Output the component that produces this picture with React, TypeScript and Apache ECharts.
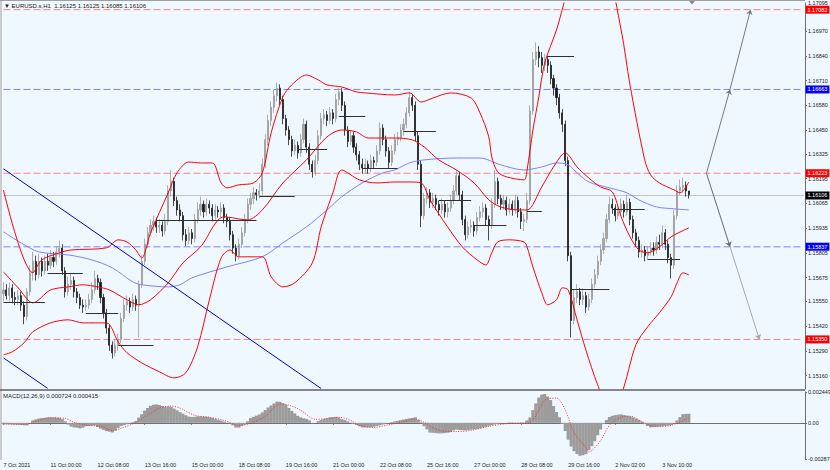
import React, { useEffect, useRef } from 'react';
import * as echarts from 'echarts';

// ---- data (2-hour bars, [open, close, low, high]) ----
const candles: number[][] = [
[1.1559,1.1561,1.1555,1.1565],[1.1561,1.1558,1.1556,1.1564],[1.1558,1.1562,1.1555,1.1565],[1.1562,1.1557,1.1554,1.1564],[1.1557,1.1556,1.1553,1.1560],
[1.1556,1.1558,1.1553,1.1561],[1.1558,1.1553,1.1550,1.1560],[1.1553,1.1547,1.1543,1.1555],[1.1547,1.1560,1.1545,1.1562],[1.1560,1.1570,1.1558,1.1574],
[1.1570,1.1576,1.1566,1.1581],[1.1576,1.1569,1.1566,1.1579],[1.1569,1.1576,1.1567,1.1580],[1.1576,1.1571,1.1568,1.1578],[1.1571,1.1576,1.1569,1.1579],
[1.1576,1.1574,1.1571,1.1580],[1.1574,1.1578,1.1572,1.1582],[1.1578,1.1576,1.1573,1.1581],[1.1576,1.1581,1.1574,1.1584],[1.1581,1.1583,1.1578,1.1587],
[1.1583,1.1571,1.1569,1.1585],[1.1571,1.1560,1.1557,1.1573],[1.1560,1.1564,1.1558,1.1568],[1.1564,1.1566,1.1561,1.1570],[1.1566,1.1560,1.1557,1.1568],
[1.1560,1.1557,1.1554,1.1562],[1.1557,1.1553,1.1551,1.1559],[1.1553,1.1552,1.1549,1.1556],[1.1552,1.1553,1.1550,1.1556],[1.1553,1.1556,1.1551,1.1559],
[1.1556,1.1561,1.1554,1.1565],[1.1561,1.1567,1.1559,1.1571],[1.1567,1.1565,1.1561,1.1569],[1.1565,1.1557,1.1554,1.1567],[1.1557,1.1549,1.1546,1.1559],
[1.1549,1.1541,1.1538,1.1551],[1.1541,1.1532,1.1529,1.1543],[1.1532,1.1528,1.1525,1.1534],[1.1528,1.1532,1.1526,1.1535],[1.1532,1.1535,1.1529,1.1538],
[1.1535,1.1546,1.1533,1.1549],[1.1546,1.1553,1.1544,1.1556],[1.1553,1.1555,1.1550,1.1558],[1.1555,1.1552,1.1549,1.1557],[1.1552,1.1556,1.1550,1.1559],
[1.1556,1.1553,1.1550,1.1558],[1.1553,1.1564,1.1536,1.1566],[1.1564,1.1576,1.1562,1.1579],[1.1576,1.1585,1.1574,1.1588],[1.1585,1.1591,1.1583,1.1594],
[1.1591,1.1595,1.1589,1.1598],[1.1595,1.1597,1.1592,1.1600],[1.1597,1.1594,1.1591,1.1599],[1.1594,1.1595,1.1591,1.1598],[1.1595,1.1592,1.1589,1.1597],
[1.1592,1.1597,1.1590,1.1601],[1.1597,1.1613,1.1595,1.1616],[1.1613,1.1618,1.1610,1.1624],[1.1618,1.1608,1.1605,1.1620],[1.1608,1.1603,1.1600,1.1610],
[1.1603,1.1600,1.1597,1.1606],[1.1600,1.1590,1.1587,1.1602],[1.1590,1.1587,1.1584,1.1593],[1.1587,1.1591,1.1585,1.1594],[1.1591,1.1588,1.1585,1.1593],
[1.1588,1.1598,1.1586,1.1601],[1.1598,1.1603,1.1596,1.1607],[1.1603,1.1606,1.1600,1.1610],[1.1606,1.1602,1.1599,1.1608],[1.1602,1.1606,1.1600,1.1609],
[1.1606,1.1604,1.1601,1.1608],[1.1604,1.1600,1.1597,1.1606],[1.1600,1.1603,1.1598,1.1606],[1.1603,1.1602,1.1599,1.1605],[1.1602,1.1604,1.1599,1.1607],
[1.1604,1.1599,1.1596,1.1606],[1.1599,1.1597,1.1594,1.1601],[1.1597,1.1590,1.1587,1.1599],[1.1590,1.1583,1.1580,1.1592],[1.1583,1.1579,1.1576,1.1585],
[1.1579,1.1585,1.1577,1.1588],[1.1585,1.1591,1.1583,1.1594],[1.1591,1.1598,1.1589,1.1601],[1.1598,1.1606,1.1596,1.1609],[1.1606,1.1609,1.1603,1.1612],
[1.1609,1.1612,1.1606,1.1615],[1.1612,1.1611,1.1608,1.1614],[1.1611,1.1613,1.1609,1.1617],[1.1613,1.1627,1.1611,1.1630],[1.1627,1.1640,1.1625,1.1643],
[1.1640,1.1650,1.1637,1.1653],[1.1650,1.1657,1.1647,1.1660],[1.1657,1.1663,1.1654,1.1666],[1.1663,1.1667,1.1660,1.1670],[1.1667,1.1661,1.1658,1.1669],
[1.1661,1.1651,1.1648,1.1663],[1.1651,1.1645,1.1642,1.1653],[1.1645,1.1640,1.1637,1.1647],[1.1640,1.1634,1.1631,1.1642],[1.1634,1.1637,1.1632,1.1640],
[1.1637,1.1633,1.1630,1.1639],[1.1633,1.1640,1.1631,1.1643],[1.1640,1.1648,1.1638,1.1651],[1.1648,1.1636,1.1633,1.1650],[1.1636,1.1627,1.1624,1.1638],
[1.1627,1.1623,1.1620,1.1629],[1.1623,1.1629,1.1621,1.1632],[1.1629,1.1642,1.1627,1.1645],[1.1642,1.1651,1.1640,1.1654],[1.1651,1.1653,1.1648,1.1656],
[1.1653,1.1650,1.1647,1.1655],[1.1650,1.1654,1.1648,1.1657],[1.1654,1.1651,1.1648,1.1656],[1.1651,1.1661,1.1649,1.1664],[1.1661,1.1665,1.1658,1.1667],
[1.1665,1.1658,1.1655,1.1667],[1.1658,1.1645,1.1642,1.1660],[1.1645,1.1639,1.1636,1.1647],[1.1639,1.1642,1.1637,1.1645],[1.1642,1.1636,1.1633,1.1644],
[1.1636,1.1632,1.1629,1.1638],[1.1632,1.1627,1.1624,1.1634],[1.1627,1.1625,1.1622,1.1630],[1.1625,1.1627,1.1622,1.1630],[1.1627,1.1625,1.1622,1.1629],
[1.1625,1.1629,1.1623,1.1632],[1.1629,1.1628,1.1625,1.1631],[1.1628,1.1634,1.1626,1.1637],[1.1634,1.1646,1.1632,1.1649],[1.1646,1.1640,1.1637,1.1648],
[1.1640,1.1634,1.1631,1.1642],[1.1634,1.1628,1.1625,1.1636],[1.1628,1.1634,1.1626,1.1637],[1.1634,1.1640,1.1632,1.1643],[1.1640,1.1641,1.1637,1.1644],
[1.1641,1.1645,1.1639,1.1648],[1.1645,1.1648,1.1642,1.1651],[1.1648,1.1654,1.1646,1.1657],[1.1654,1.1662,1.1652,1.1665],[1.1662,1.1658,1.1655,1.1664],
[1.1658,1.1642,1.1639,1.1660],[1.1642,1.1627,1.1624,1.1644],[1.1627,1.1600,1.1594,1.1629],[1.1600,1.1609,1.1598,1.1612],[1.1609,1.1612,1.1606,1.1615],
[1.1612,1.1607,1.1604,1.1614],[1.1607,1.1609,1.1604,1.1612],[1.1609,1.1606,1.1603,1.1611],[1.1606,1.1603,1.1600,1.1608],[1.1603,1.1606,1.1601,1.1609],
[1.1606,1.1602,1.1599,1.1608],[1.1602,1.1604,1.1599,1.1607],[1.1604,1.1608,1.1602,1.1611],[1.1608,1.1613,1.1606,1.1616],[1.1613,1.1621,1.1611,1.1624],
[1.1621,1.1611,1.1608,1.1623],[1.1611,1.1598,1.1595,1.1613],[1.1598,1.1590,1.1587,1.1600],[1.1590,1.1594,1.1588,1.1597],[1.1594,1.1595,1.1591,1.1598],
[1.1595,1.1592,1.1589,1.1597],[1.1592,1.1599,1.1590,1.1602],[1.1599,1.1602,1.1597,1.1605],[1.1602,1.1604,1.1599,1.1607],[1.1604,1.1598,1.1595,1.1606],
[1.1598,1.1595,1.1587,1.1600],[1.1595,1.1606,1.1593,1.1609],[1.1606,1.1618,1.1604,1.1624],[1.1618,1.1609,1.1606,1.1620],[1.1609,1.1606,1.1603,1.1611],
[1.1606,1.1608,1.1603,1.1611],[1.1608,1.1603,1.1600,1.1610],[1.1603,1.1606,1.1601,1.1609],[1.1606,1.1603,1.1600,1.1608],[1.1603,1.1608,1.1601,1.1611],
[1.1608,1.1602,1.1599,1.1610],[1.1602,1.1597,1.1593,1.1604],[1.1597,1.1598,1.1592,1.1601],[1.1598,1.1608,1.1596,1.1612],[1.1608,1.1655,1.1606,1.1658],
[1.1655,1.1682,1.1653,1.1686],[1.1682,1.1686,1.1679,1.1691],[1.1686,1.1683,1.1678,1.1689],[1.1683,1.1679,1.1675,1.1686],[1.1679,1.1682,1.1676,1.1685],
[1.1682,1.1679,1.1675,1.1684],[1.1679,1.1672,1.1669,1.1681],[1.1672,1.1667,1.1663,1.1674],[1.1667,1.1662,1.1658,1.1669],[1.1662,1.1654,1.1651,1.1664],
[1.1654,1.1648,1.1644,1.1656],[1.1648,1.1629,1.1626,1.1650],[1.1629,1.1579,1.1576,1.1631],[1.1579,1.1545,1.1536,1.1581],[1.1545,1.1557,1.1543,1.1561],
[1.1557,1.1560,1.1554,1.1564],[1.1560,1.1556,1.1553,1.1562],[1.1556,1.1558,1.1553,1.1562],[1.1558,1.1552,1.1549,1.1560],[1.1552,1.1556,1.1550,1.1559],
[1.1556,1.1564,1.1554,1.1567],[1.1564,1.1569,1.1562,1.1572],[1.1569,1.1576,1.1567,1.1579],[1.1576,1.1582,1.1574,1.1585],[1.1582,1.1588,1.1580,1.1591],
[1.1588,1.1598,1.1586,1.1601],[1.1598,1.1606,1.1596,1.1610],[1.1606,1.1604,1.1601,1.1609],[1.1604,1.1600,1.1597,1.1606],[1.1600,1.1602,1.1598,1.1605],
[1.1602,1.1606,1.1600,1.1609],[1.1606,1.1602,1.1599,1.1608],[1.1602,1.1607,1.1600,1.1611],[1.1607,1.1598,1.1595,1.1609],[1.1598,1.1591,1.1588,1.1600],
[1.1591,1.1587,1.1584,1.1593],[1.1587,1.1581,1.1578,1.1589],[1.1581,1.1582,1.1578,1.1585],[1.1582,1.1579,1.1576,1.1584],[1.1579,1.1581,1.1577,1.1584],
[1.1581,1.1583,1.1579,1.1586],[1.1583,1.1582,1.1579,1.1586],[1.1582,1.1586,1.1580,1.1589],[1.1586,1.1585,1.1582,1.1590],[1.1585,1.1591,1.1583,1.1595],
[1.1591,1.1585,1.1582,1.1593],[1.1585,1.1578,1.1575,1.1587],[1.1578,1.1574,1.1567,1.1580],[1.1574,1.1600,1.1572,1.1603],[1.1600,1.1613,1.1598,1.1616],
[1.1613,1.1615,1.1611,1.1619],[1.1615,1.1616,1.1612,1.1620],[1.1616,1.1613,1.1610,1.1618],[1.1613,1.1611,1.1609,1.1613]
];

// Bollinger bands and moving average: [bar index, price]
const bbUpper: number[][] = [
[0,1.16135],[10,1.15700],[13,1.15768],[19,1.15805],[23,1.15820],[35,1.15831],[39,1.15873],[42,1.15862],[45,1.15820],[47,1.15778],
[50,1.15910],[56,1.16120],[59,1.16225],[63,1.16282],[67,1.16277],[71,1.16277],[74,1.16172],[76,1.16146],[80,1.16162],[85,1.16172],
[88,1.16225],[91,1.16435],[95,1.16624],[98,1.16687],[103,1.16739],[107,1.16713],[110,1.16687],[115,1.16676],[120,1.16650],[123,1.16645],
[133,1.16634],[138,1.16645],[142,1.16597],[146,1.16618],[152,1.16645],[159,1.16618],[162,1.16540],[165,1.16414],[166,1.16309],[168,1.16230],
[171,1.16204],[177,1.16188],[178,1.16240],[180,1.16450],[182,1.16624],[184,1.16802],[188,1.16975],[193,1.17238],[198,1.17369],[205,1.17290],
[210,1.16975],[213,1.16687],[218,1.16293],[220,1.16214],[223,1.16172],[228,1.16135],[230,1.16120],[233,1.16177]
];
const bbMiddle: number[][] = [
[0,1.15705],[5,1.15621],[10,1.15542],[16,1.15610],[22,1.15626],[27,1.15637],[32,1.15626],[36,1.15610],[42,1.15558],[46,1.15532],
[50,1.15558],[56,1.15647],[61,1.15752],[67,1.15836],[75,1.15994],[83,1.15978],[88,1.16030],[95,1.16172],[103,1.16293],[110,1.16414],
[115,1.16450],[120,1.16440],[124,1.16408],[133,1.16408],[139,1.16398],[143,1.16361],[148,1.16293],[154,1.16240],[160,1.16172],[165,1.16083],
[169,1.16046],[175,1.16030],[178,1.16030],[183,1.16151],[187,1.16256],[191,1.16330],[195,1.16256],[199,1.16198],[203,1.16151],[207,1.16125],
[210,1.15994],[213,1.15889],[216,1.15820],[219,1.15805],[223,1.15836],[227,1.15889],[233,1.15936]
];
const bbLower: number[][] = [
[0,1.15269],[3,1.15285],[7,1.15332],[10,1.15390],[16,1.15437],[22,1.15453],[27,1.15437],[35,1.15437],[39,1.15337],[42,1.15280],
[47,1.15227],[53,1.15180],[58,1.15148],[62,1.15175],[66,1.15311],[70,1.15558],[74,1.15778],[77,1.15820],[80,1.15784],[88,1.15784],
[91,1.15679],[95,1.15626],[99,1.15647],[105,1.15752],[108,1.15941],[112,1.16120],[115,1.16240],[121,1.16188],[127,1.16172],[133,1.16177],
[138,1.16177],[142,1.16172],[145,1.16083],[151,1.15941],[156,1.15836],[161,1.15768],[164,1.15741],[166,1.15805],[168,1.15862],[172,1.15873],
[177,1.15862],[178,1.15836],[180,1.15731],[183,1.15595],[185,1.15532],[188,1.15558],[190,1.15621],[192,1.15610],[195,1.15453],[198,1.15295],
[202,1.15112],[206,1.14980],[210,1.15059],[215,1.15322],[219,1.15416],[223,1.15490],[227,1.15574],[229,1.15647],[231,1.15700],[233,1.15689]
];
const movingAverage: number[][] = [
[0,1.15915],[6,1.15857],[12,1.15810],[22,1.15794],[30,1.15768],[37,1.15726],[44,1.15652],[47,1.15637],[56,1.15626],[60,1.15637],
[64,1.15673],[76,1.15731],[88,1.15784],[95,1.15857],[103,1.15941],[110,1.16030],[115,1.16099],[122,1.16172],[129,1.16225],[133,1.16240],
[138,1.16277],[143,1.16293],[154,1.16303],[162,1.16303],[169,1.16267],[177,1.16240],[183,1.16256],[188,1.16277],[192,1.16267],[195,1.16225],
[199,1.16177],[206,1.16146],[212,1.16120],[216,1.16083],[222,1.16046],[228,1.16036],[233,1.16030]
];

// MACD(12,26,9): histogram per bar, signal as [bar index, value]
const macdHist: number[] = [
-0.00012,-0.00012,-0.00012,-0.00013,-0.00014,-0.00015,-0.00017,-0.00019,-0.00020,0.00000,
0.00020,0.00027,0.00034,0.00038,0.00040,0.00043,0.00044,0.00043,0.00042,0.00040,
0.00030,0.00012,-0.00014,-0.00030,-0.00036,-0.00039,-0.00044,-0.00038,-0.00027,-0.00025,
-0.00023,-0.00020,-0.00033,-0.00046,-0.00056,-0.00065,-0.00070,-0.00076,-0.00062,-0.00040,
-0.00026,-0.00019,-0.00011,-0.00004,0.00006,0.00015,0.00042,0.00069,0.00097,0.00118,
0.00135,0.00144,0.00146,0.00142,0.00134,0.00125,0.00130,0.00127,0.00113,0.00099,
0.00085,0.00073,0.00060,0.00049,0.00046,0.00048,0.00051,0.00052,0.00049,0.00048,
0.00045,0.00039,0.00031,0.00024,0.00018,0.00010,0.00003,-0.00004,-0.00020,-0.00037,
-0.00038,-0.00026,-0.00014,0.00013,0.00038,0.00048,0.00057,0.00067,0.00083,0.00102,
0.00122,0.00138,0.00154,0.00168,0.00167,0.00156,0.00143,0.00118,0.00095,0.00075,
0.00056,0.00044,0.00037,0.00031,0.00020,-0.00003,0.00001,0.00014,0.00023,0.00030,
0.00037,0.00044,0.00046,0.00048,0.00043,0.00030,0.00022,0.00012,0.00002,-0.00007,
-0.00017,-0.00027,-0.00036,-0.00036,-0.00036,-0.00035,-0.00030,-0.00025,-0.00020,-0.00013,
-0.00006,0.00001,0.00006,0.00011,0.00016,0.00021,0.00026,0.00031,0.00035,0.00039,
0.00044,0.00024,0.00004,-0.00027,-0.00052,-0.00077,-0.00079,-0.00081,-0.00084,-0.00083,
-0.00081,-0.00078,-0.00074,-0.00060,-0.00053,-0.00056,-0.00058,-0.00060,-0.00057,-0.00054,
-0.00051,-0.00048,-0.00044,-0.00037,-0.00031,-0.00023,-0.00018,-0.00013,-0.00008,-0.00003,
-0.00002,0.00001,0.00003,0.00002,0.00000,-0.00002,-0.00002,0.00002,0.00020,0.00044,
0.00101,0.00154,0.00201,0.00224,0.00229,0.00209,0.00181,0.00133,0.00086,0.00045,
-0.00008,-0.00065,-0.00134,-0.00188,-0.00225,-0.00247,-0.00262,-0.00257,-0.00248,-0.00217,
-0.00185,-0.00146,-0.00099,-0.00053,-0.00010,0.00023,0.00047,0.00056,0.00061,0.00065,
0.00067,0.00062,0.00057,0.00052,0.00043,0.00034,0.00024,0.00009,-0.00010,-0.00025,
-0.00036,-0.00034,-0.00031,-0.00029,-0.00027,-0.00024,-0.00022,-0.00017,-0.00003,0.00020,
0.00046,0.00069,0.00071,0.000724
];
const macdSignal: number[][] = [
[0,-0.00008],[7,-0.00012],[11,0.00012],[16,0.00040],[21,0.00036],[24,0.00004],[29,-0.00020],[33,-0.00028],[37,-0.00060],[40,-0.00044],
[45,0.00004],[50,0.00077],[53,0.00117],[57,0.00133],[60,0.00117],[65,0.00060],[70,0.00044],[75,0.00020],[80,-0.00020],[84,-0.00004],
[89,0.00052],[94,0.00149],[97,0.00141],[101,0.00101],[106,0.00028],[111,0.00036],[114,0.00044],[118,0.00020],[121,-0.00020],[126,-0.00036],
[130,-0.00020],[135,0.00004],[140,0.00028],[143,0.00004],[148,-0.00060],[154,-0.00069],[159,-0.00060],[165,-0.00028],[172,-0.00004],[179,0.00004],
[182,0.00101],[184,0.00181],[188,0.00197],[191,0.00101],[194,-0.00077],[198,-0.00197],[199,-0.00230],[203,-0.00141],[206,-0.00020],[210,0.00044],
[213,0.00052],[218,-0.00004],[222,-0.00028],[227,-0.00020],[233,0.000415]
];

// daily horizontal segments: [start bar, end bar, price]
const dailySegments: number[][] = [
[0,14,1.15547],[15,27,1.15700],[28,39,1.15490],[39,51,1.15322],[52,86,1.15978],[87,99,1.16104],[100,110,1.16351],[114,123,1.16524],
[122,134,1.16251],[136,147,1.16445],[148,159,1.16083],[160,171,1.15952],[178,183,1.16025],[185,194,1.16839],[193,206,1.15616],
[207,218,1.16036],[219,230,1.15773]
];
// trend channel lines: [[bar, price], [bar, price]]
const trendLines: number[][][] = [
[[0,1.16246],[108,1.15092]],
[[0,1.15253],[15,1.15093]]
];
// projection arrows
const arrowsUp: number[][][] = [[[239,1.16223],[247,1.16663]],[[247,1.16663],[254,1.17082]]];
const arrowsDown: number[][][] = [[[239,1.16223],[247,1.15837]],[[247,1.15837],[257,1.15350]]];

const redLevels = [1.17082, 1.16223, 1.15350];
const blueLevels = [1.16663, 1.15837];
const lastPrice = 1.16106;

const timeTickLabels = ["7 Oct 2021","11 Oct 00:00","12 Oct 08:00","13 Oct 16:00","15 Oct 00:00","18 Oct 08:00","19 Oct 16:00","21 Oct 00:00","22 Oct 08:00","25 Oct 16:00","27 Oct 00:00","28 Oct 08:00","29 Oct 16:00","2 Nov 02:00","3 Nov 10:00"];
const priceTickValues = [1.17095,1.16970,1.16840,1.16710,1.16580,1.16450,1.16325,1.16195,1.16065,1.15935,1.15805,1.15675,1.15550,1.15420,1.15290,1.15160];
const macdTickValues = [0.002449, 0, -0.00287];
const BAR_SLOTS = 273;
const BARS_PER_LABEL = 16;

export default function App() {
  const ref = useRef<HTMLDivElement>(null);
  useEffect(() => {
    const chart = echarts.init(ref.current!, null, { renderer: 'svg' });
    const cats = Array.from({ length: BAR_SLOTS }, (_, i) => String(i));
    const font = 'Liberation Sans';
    const txt = '#202020';
    const axisCol = '#707070';
    const fmt = (v: number) => v.toFixed(5);
    const showTick = (i: number) => i % BARS_PER_LABEL === 0 && i / BARS_PER_LABEL < timeTickLabels.length;

    // horizontal price level drawn as a two-point line across the whole plot, labelled at its right end
    const levelSeries = (v: number, color: string, width: number, type: any, bg: string) => ({
      type: 'line', xAxisIndex: 0, yAxisIndex: 0, silent: true, z: 1, showSymbol: false, symbol: 'none',
      data: [[0, v], [BAR_SLOTS - 1, v]],
      lineStyle: { color, width, type },
      emphasis: { disabled: true },
      endLabel: {
        show: true, formatter: () => fmt(v), backgroundColor: bg, color: '#ffffff',
        fontSize: 5.5, fontFamily: font, padding: [1, 2, 1, 2], distance: 2,
      },
    });

    const option: any = {
      animation: false,
      backgroundColor: '#f0f8ff',
      grid: [
        { left: 2, right: 25, top: 3, height: 386, containLabel: false, outerBoundsMode: 'none' },
        { left: 2, right: 25, top: 392, height: 67, containLabel: false, outerBoundsMode: 'none' },
      ],
      xAxis: [
        { type: 'category', gridIndex: 0, data: cats, axisLine: { show: false }, axisTick: { show: false }, axisLabel: { show: false }, splitLine: { show: false } },
        {
          type: 'category', gridIndex: 1, data: cats,
          axisLine: { show: true, lineStyle: { color: axisCol, width: 1 } },
          axisTick: { show: true, interval: (i: number) => showTick(i), alignWithLabel: true, length: 2, lineStyle: { color: axisCol } },
          axisLabel: {
            show: true, interval: (i: number) => showTick(i), align: 'left', margin: 3,
            formatter: (_v: string, i: number) => timeTickLabels[i / BARS_PER_LABEL] ?? '',
            fontSize: 5.5, fontFamily: font, color: txt,
          },
          splitLine: { show: false },
        },
      ],
      yAxis: [
        {
          type: 'value', gridIndex: 0, position: 'right', min: 1.150896, max: 1.171171,
          axisLine: { show: true, lineStyle: { color: axisCol } },
          axisTick: { show: true, customValues: priceTickValues, length: 2, lineStyle: { color: axisCol } },
          axisLabel: {
            show: true, customValues: priceTickValues,
            formatter: (v: number) => (v > 1.1709 ? '{up|' + fmt(v) + '}' : fmt(v)),
            rich: { up: { fontSize: 5.5, fontFamily: font, color: txt, padding: [0, 0, 8, 0] } },
            fontSize: 5.5, fontFamily: font, color: txt, margin: 3,
          },
          splitLine: { show: false },
        },
        {
          type: 'value', gridIndex: 1, position: 'right', min: -0.00287, max: 0.002449,
          axisLine: { show: true, lineStyle: { color: axisCol } },
          axisTick: { show: true, customValues: macdTickValues, length: 2, lineStyle: { color: axisCol } },
          axisLabel: {
            show: true, customValues: macdTickValues,
            formatter: (v: number) => (v === 0 ? '0.00' : String(v)),
            fontSize: 5.5, fontFamily: font, color: txt, margin: 3,
          },
          splitLine: { show: false },
        },
      ],
      series: [
        ...redLevels.map((v) => levelSeries(v, '#ff8080', 1, [7, 3], '#ff0000')),
        levelSeries(blueLevels[0], '#8080ff', 1, [7, 3], '#0000ff'),
        levelSeries(blueLevels[1], '#a8a8ff', 1.6, [7, 3], '#0000ff'),
        levelSeries(lastPrice, '#c4c4c4', 1, 'solid', '#000000'),
        {
          type: 'candlestick', xAxisIndex: 0, yAxisIndex: 0, data: candles, barWidth: 1.6, silent: true, z: 3,
          itemStyle: { color: '#a6a6a6', color0: '#1c1c1c', borderColor: '#9a9a9a', borderColor0: '#1c1c1c', borderWidth: 0.8 },
        },
        { type: 'line', xAxisIndex: 0, yAxisIndex: 0, data: movingAverage, smooth: 0.3, showSymbol: false, silent: true, z: 4, lineStyle: { color: '#8080ff', width: 1 } },
        { type: 'line', xAxisIndex: 0, yAxisIndex: 0, data: bbUpper, smooth: 0.3, showSymbol: false, silent: true, z: 5, lineStyle: { color: '#ff0000', width: 1 } },
        { type: 'line', xAxisIndex: 0, yAxisIndex: 0, data: bbMiddle, smooth: 0.3, showSymbol: false, silent: true, z: 5, lineStyle: { color: '#ff0000', width: 1 } },
        { type: 'line', xAxisIndex: 0, yAxisIndex: 0, data: bbLower, smooth: 0.3, showSymbol: false, silent: true, z: 5, lineStyle: { color: '#ff0000', width: 1 } },
        {
          type: 'lines', coordinateSystem: 'cartesian2d', xAxisIndex: 0, yAxisIndex: 0, silent: true, z: 6, clip: true,
          lineStyle: { color: '#303030', width: 1, opacity: 1 },
          data: dailySegments.map(([a, b, p]) => ({ coords: [[a, p], [b, p]] })),
        },
        {
          type: 'lines', coordinateSystem: 'cartesian2d', xAxisIndex: 0, yAxisIndex: 0, silent: true, z: 6, clip: true,
          lineStyle: { color: '#0000cc', width: 1, opacity: 1 },
          data: trendLines.map((c) => ({ coords: c })),
        },
        {
          type: 'lines', coordinateSystem: 'cartesian2d', xAxisIndex: 0, yAxisIndex: 0, silent: true, z: 6,
          symbol: ['none', 'arrow'], symbolSize: 5,
          lineStyle: { color: '#7a7a7a', width: 1, opacity: 1 },
          data: [
            ...arrowsUp.map((c) => ({ coords: c })),
            { coords: arrowsDown[0], lineStyle: { color: '#6a6a6a' } },
            { coords: arrowsDown[1], lineStyle: { color: '#a8a8a8' } },
          ],
        },
        {
          type: 'bar', xAxisIndex: 1, yAxisIndex: 1, data: macdHist, barWidth: 3.2, silent: true,
          itemStyle: { color: '#9c9c9c' },
        },
        {
          type: 'line', xAxisIndex: 1, yAxisIndex: 1, data: macdSignal, smooth: 0.3, showSymbol: false, silent: true, z: 5,
          lineStyle: { color: '#ff3030', width: 1, type: [1, 1.5] },
        },
      ],
      graphic: [
        { type: 'line', shape: { x1: 0, y1: 0.5, x2: 805, y2: 0.5 }, style: { stroke: '#a0a0a0', lineWidth: 1 }, silent: true },
        { type: 'line', shape: { x1: 1, y1: 0, x2: 1, y2: 460 }, style: { stroke: '#a0a0a0', lineWidth: 1 }, silent: true },
        { type: 'line', shape: { x1: 0, y1: 390, x2: 805, y2: 390 }, style: { stroke: '#606060', lineWidth: 1.5 }, silent: true },
        { type: 'polygon', shape: { points: [[689, 1], [695, 1], [692, 4.5]] }, style: { fill: '#8a8a8a' }, silent: true },
        { type: 'text', left: 4, top: 3, silent: true, style: { text: '▼ EURUSD.s,H1  1.16125 1.16125 1.16085 1.16106', fontSize: 6, fontFamily: font, fill: txt } },
        { type: 'text', left: 3, top: 393, silent: true, style: { text: 'MACD(12,26,9) 0.000724 0.000415', fontSize: 6, fontFamily: font, fill: txt } },
      ],
    };
    chart.setOption(option);
    return () => chart.dispose();
  }, []);
  return <div ref={ref} style={{ position: 'fixed', left: 0, top: 0, width: 830, height: 470, background: '#f0f8ff' }} />;
}
